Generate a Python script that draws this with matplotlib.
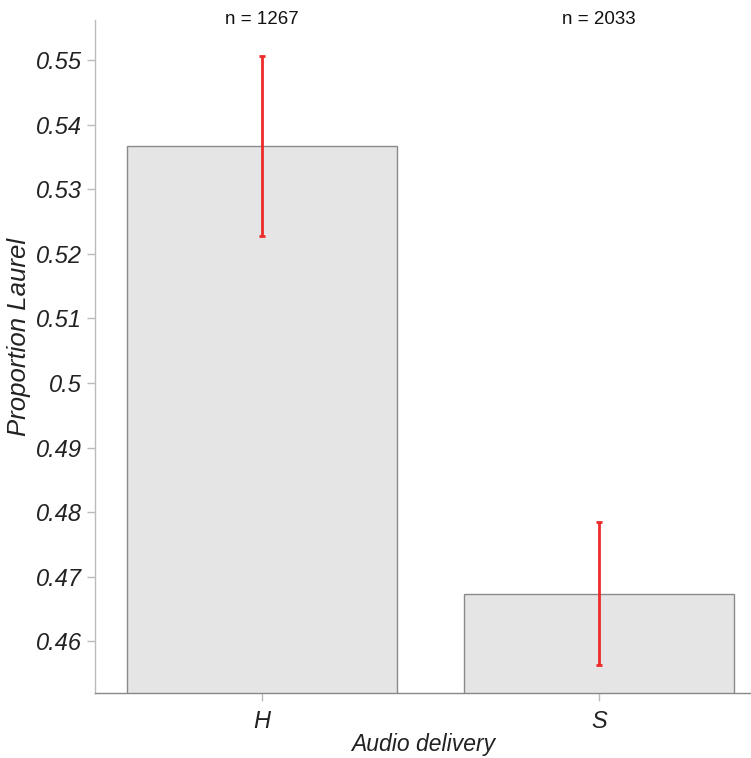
import matplotlib
matplotlib.use("Agg")
import matplotlib.pyplot as plt
from matplotlib.ticker import FuncFormatter

categories = ["H", "S"]
proportions = [0.5367, 0.4674]
ci_low = [0.5228, 0.4564]
ci_high = [0.5507, 0.4784]
counts = [1267, 2033]
yticks = [0.46, 0.47, 0.48, 0.49, 0.50, 0.51, 0.52, 0.53, 0.54, 0.55]

plt.rcParams['font.family'] = ['Liberation Sans', 'DejaVu Sans']

W, H = 751, 758
fig = plt.figure(figsize=(W/100, H/100), dpi=100)
ax = fig.add_axes([95/W, (H-693)/H, (751-95)/W, (693-20)/H])

x = list(range(len(categories)))
ax.bar(x, proportions, width=0.8, color="#e5e5e5", edgecolor="#8a8a8a", linewidth=1.0, zorder=2)
yerr = [[p - l for p, l in zip(proportions, ci_low)], [h - p for p, h in zip(proportions, ci_high)]]
ax.errorbar(x, proportions, yerr=yerr, fmt="none", ecolor="#ee2a2a", elinewidth=2, capsize=2.5, capthick=2, zorder=3)

ax.set_xlim(-0.495, 1.45)
ax.set_ylim(0.452, 0.5562)
ax.set_yticks(yticks)
ax.yaxis.set_major_formatter(FuncFormatter(lambda v, p: "%g" % round(v, 4)))
ax.set_xticks(x)
ax.set_xticklabels(categories)

for s in ["top", "right"]:
    ax.spines[s].set_visible(False)
for s in ["left", "bottom"]:
    ax.spines[s].set_color("#bbbbbb")
    ax.spines[s].set_linewidth(1.0)
ax.spines["bottom"].set_color("#888888")

ax.tick_params(axis="both", colors="#bbbbbb", length=6, width=1, labelcolor="#222222", labelsize=17)
ax.tick_params(axis="x", pad=6)
for lab in ax.get_xticklabels() + ax.get_yticklabels():
    lab.set_fontstyle("italic")

ax.set_xlabel("Audio delivery", fontsize=16.5, fontstyle="italic", color="#222222", labelpad=0)
ax.set_ylabel("Proportion Laurel", fontsize=18.5, fontstyle="italic", color="#222222")
ax.yaxis.set_label_coords(-0.097, 0.529)

for xi, n in zip(x, counts):
    ax.text(xi, 1.0, "n = %d" % n, transform=ax.get_xaxis_transform(), ha="center", va="center",
            fontsize=13.5, color="#111111", clip_on=False)

fig.savefig("out.png", dpi=100)
